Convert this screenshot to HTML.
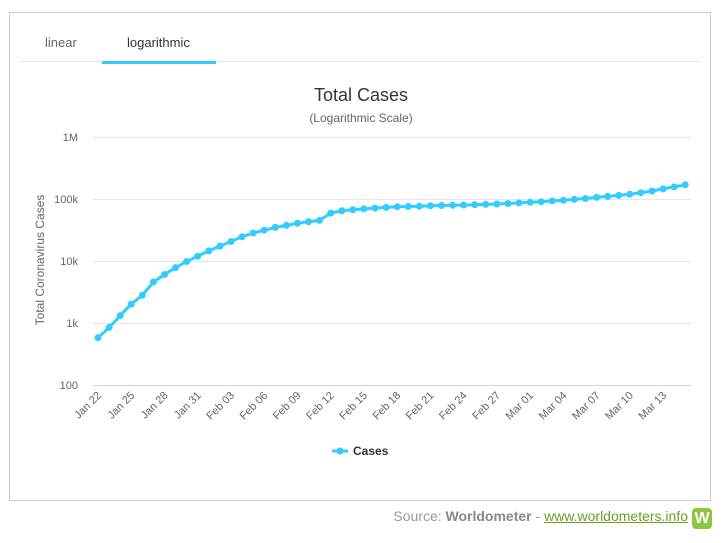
<!DOCTYPE html>
<html><head><meta charset="utf-8"><style>
body{margin:0;width:728px;height:543px;background:#fff;font-family:"Liberation Sans",sans-serif;position:relative;overflow:hidden}
.box{position:absolute;left:9px;top:12px;width:702px;height:489px;border:1px solid #ccc;box-sizing:border-box}
.foot{position:absolute;right:40px;top:508px;font-size:14px;color:#999}
.foot b{color:#888}
.foot a{color:#6a9e1f;text-decoration:underline}
.ic{position:absolute;left:692px;top:508px;width:20px;height:21px;background:#8dc63f;border-radius:4px;color:#fff;font-weight:bold;font-size:16px;text-align:center;line-height:21px}
</style></head><body>
<div class="box"></div>
<svg width="728" height="543" style="position:absolute;left:0;top:0" font-family="Liberation Sans, sans-serif">
<line x1="20" y1="61.5" x2="700" y2="61.5" stroke="#e6e6e6"/>
<text x="45" y="47" font-size="13" fill="#666">linear</text>
<text x="127" y="47" font-size="13" fill="#333">logarithmic</text>
<rect x="102" y="61" width="114" height="3" fill="#3cf"/>
<text x="361" y="101" font-size="18" fill="#333" text-anchor="middle">Total Cases</text>
<text x="361" y="122" font-size="12" fill="#666" text-anchor="middle">(Logarithmic Scale)</text>
<g stroke="#e6e6e6">
<line x1="93" y1="137.5" x2="691" y2="137.5"/><line x1="93" y1="199.5" x2="691" y2="199.5"/>
<line x1="93" y1="261.5" x2="691" y2="261.5"/><line x1="93" y1="323.5" x2="691" y2="323.5"/>
</g>
<line x1="93" y1="385.5" x2="691" y2="385.5" stroke="#ccd6eb"/>
<g font-size="11" fill="#666" text-anchor="end">
<text x="78" y="141">1M</text><text x="78" y="203">100k</text><text x="78" y="265">10k</text><text x="78" y="327">1k</text><text x="78" y="389">100</text>
</g>
<text transform="translate(44,260) rotate(-90)" font-size="12" fill="#666" text-anchor="middle">Total Coronavirus Cases</text>
<g id="xl" font-size="11" fill="#666" text-anchor="end"></g>
<path id="ln" fill="none" stroke="#3cf" stroke-width="3" stroke-linejoin="round"/>
<g id="mk" fill="#3cf"></g>
<line x1="332" y1="451" x2="348" y2="451" stroke="#3cf" stroke-width="3"/>
<circle cx="340" cy="451" r="3.5" fill="#3cf"/>
<text x="353" y="455" font-size="12" font-weight="bold" fill="#333">Cases</text>
</svg>
<div class="foot">Source: <b>Worldometer</b> - <a>www.worldometers.info</a></div>
<div class="ic">W</div>
<script>
var v=[580,845,1317,2015,2800,4581,6058,7813,9823,11950,14553,17391,20630,24545,28266,31439,34876,37552,40553,43099,45170,59283,64437,67100,69197,71329,73332,75184,75700,76677,77673,78651,79205,80087,80828,81820,83112,84615,86604,88585,90443,93016,95314,98425,102050,106099,109991,114381,118948,126214,134576,145483,156653,169593];
var d="",mk="",dx=11.08;
v.forEach(function(a,i){var x=98+i*dx,y=385-62*Math.log10(a/100);d+=(i?"L":"M")+x.toFixed(1)+" "+y.toFixed(1);mk+='<circle cx="'+x.toFixed(1)+'" cy="'+y.toFixed(1)+'" r="3.5"/>';});
document.getElementById("ln").setAttribute("d",d);
document.getElementById("mk").innerHTML=mk;
var L=["Jan 22","Jan 25","Jan 28","Jan 31","Feb 03","Feb 06","Feb 09","Feb 12","Feb 15","Feb 18","Feb 21","Feb 24","Feb 27","Mar 01","Mar 04","Mar 07","Mar 10","Mar 13"],s="";
L.forEach(function(t,i){var x=98+i*3*dx+4;s+='<text transform="translate('+x.toFixed(1)+',396) rotate(-45)">'+t+'</text>';});
document.getElementById("xl").innerHTML=s;
</script>
</body></html>
